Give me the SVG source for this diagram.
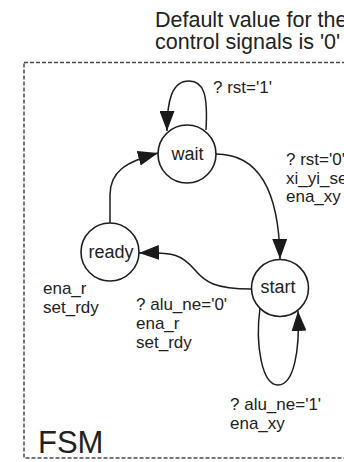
<svg xmlns="http://www.w3.org/2000/svg" width="344" height="462" viewBox="0 0 344 462">
  <defs>
    <marker id="arrow" markerUnits="userSpaceOnUse" markerWidth="20" markerHeight="15" refX="20" refY="7.5" orient="auto">
      <path d="M0,0 L20,7.5 L0,15 z" fill="#1a1a1a"/>
    </marker>
    <style>
      text { font-family: "Liberation Sans", Arial, sans-serif; fill: #222; }
      .state { fill: #fff; stroke: #1e1e1e; stroke-width: 1.6; }
      .state-label { font-size: 18px; text-anchor: middle; }
      .edge { fill: none; stroke: #1e1e1e; stroke-width: 1.5; marker-end: url(#arrow); }
      .lbl { font-size: 17px; }
      .note { font-size: 21.5px; }
      .frame { fill: none; stroke: #4a4a4a; stroke-width: 1.5; stroke-dasharray: 4 2; }
    </style>
  </defs>

  <rect width="344" height="462" fill="#fff"/>

  <!-- note about default outputs -->
  <g id="note">
    <text class="note" x="155" y="27">Default value for the</text>
    <text class="note" x="155" y="49">control signals is '0'</text>
  </g>

  <!-- FSM boundary -->
  <g id="fsm-frame">
    <rect class="frame" x="24" y="62.5" width="345" height="395.5"/>
    <text x="38" y="453" font-size="31">FSM</text>
  </g>

  <!-- transitions -->
  <g id="connectors">
    <path class="edge" d="M206,130 C208,95 204,81 189,81 C172,81 167,100 167,131"/>
    <path class="edge" d="M110,223 L110,195 C110,172 125,162 158,153"/>
    <path class="edge" d="M216,154 C258,154 279,190 280,259"/>
    <path class="edge" d="M251,289 C215,289 205,282 195,270 C182,255 175,252 139,253"/>
    <path class="edge" d="M260,308 C255,345 262,385 278,385 C294,385 300,350 298,311"/>
  </g>

  <!-- states -->
  <g id="node-wait">
    <circle class="state" cx="187" cy="154" r="29"/>
    <text class="state-label" x="187.5" y="160">wait</text>
  </g>
  <g id="node-ready">
    <circle class="state" cx="110" cy="252" r="29"/>
    <text class="state-label" x="111" y="258">ready</text>
  </g>
  <g id="node-start">
    <circle class="state" cx="280" cy="288" r="28.5"/>
    <text class="state-label" x="278" y="293">start</text>
  </g>

  <!-- transition conditions and outputs -->
  <g id="labels">
    <text class="lbl" x="213" y="93">? rst='1'</text>
    <text class="lbl" x="286" y="165">? rst='0'</text>
    <text class="lbl" x="286" y="184">xi_yi_se</text>
    <text class="lbl" x="286" y="202">ena_xy</text>
    <text class="lbl" x="43" y="294">ena_r</text>
    <text class="lbl" x="43" y="313">set_rdy</text>
    <text class="lbl" x="136" y="310">? alu_ne='0'</text>
    <text class="lbl" x="136" y="329">ena_r</text>
    <text class="lbl" x="136" y="348">set_rdy</text>
    <text class="lbl" x="230" y="410">? alu_ne='1'</text>
    <text class="lbl" x="230" y="429">ena_xy</text>
  </g>
</svg>
